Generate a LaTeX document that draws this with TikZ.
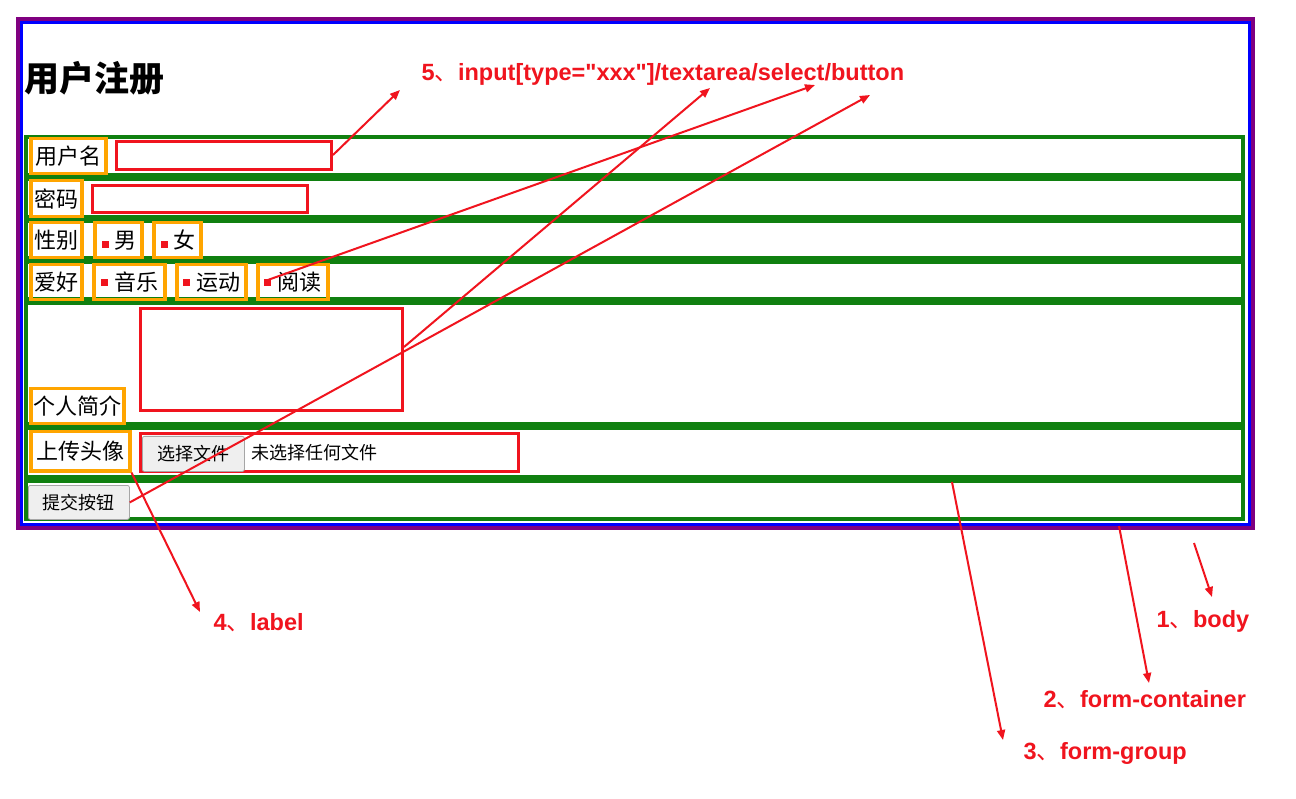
\documentclass[tikz,border=0pt]{standalone}
\usepackage{fontspec}
\setmainfont{Noto Sans CJK SC}
\newfontfamily\annfont{Liberation Sans}
\usetikzlibrary{arrows.meta}
\definecolor{grn}{RGB}{16,128,16}
\definecolor{org}{RGB}{255,165,0}
\definecolor{rd}{RGB}{240,20,30}
\definecolor{pur}{RGB}{128,0,128}
\definecolor{btn}{RGB}{239,239,239}
\tikzset{
 grp/.style={draw=grn,line width=4pt},
 lbl/.style={draw=org,line width=3.5pt,inner sep=0pt,font=\fontsize{22}{22}\selectfont,anchor=north west},
 inp/.style={draw=rd,line width=3.5pt},
 bt/.style={draw=gray!70,fill=btn,rounded corners=2pt,line width=0.8pt,font=\fontsize{18}{18}\selectfont},
 ann/.style={rd,font=\annfont\bfseries\fontsize{23.5}{23.5}\selectfont,anchor=west},
 arr/.style={draw=rd,line width=2pt,-{Triangle[length=10pt,width=8pt]}},
 dot/.style={fill=rd,minimum size=7pt,inner sep=0pt}
}
\begin{document}
\begin{tikzpicture}[x=1pt,y=-1pt]
\useasboundingbox (0,0) rectangle (1296,799);
\fill[white] (0,0) rectangle (1296,799);
\draw[pur,line width=4pt] (18,19) rectangle (1253,528);
\draw[blue,line width=3.5pt] (21.5,22.5) rectangle (1249.5,524.5);
\node[anchor=west,font=\bfseries\fontsize{35}{35}\selectfont] (title) at (21,78) {用户注册};
% groups
\foreach \a/\b in {135/177,177/219,219/260,260/301,301/426,426/479,479/521}
  \draw[grp] (26,\a+2) rectangle (1243,\b-2);
% labels
\newcommand\lb[5]{\node[lbl,minimum width=#3,minimum height=#4] (#1) at #2 {#5};}
\lb{l1}{(29,137)}{75pt}{35pt}{用户名}
\lb{l2}{(29,179)}{51pt}{36pt}{密码}
\lb{l3}{(29,221)}{51pt}{35pt}{性别}
\lb{r1}{(93,221)}{47pt}{35pt}{\hspace*{14pt}男}
\lb{r2}{(152,221)}{47pt}{35pt}{\hspace*{14pt}女}
\lb{l4}{(29,263)}{51pt}{35pt}{爱好}
\lb{c1}{(92,263)}{71pt}{35pt}{\hspace*{14pt}音乐}
\lb{c2}{(175,263)}{69pt}{35pt}{\hspace*{14pt}运动}
\lb{c3}{(256,263)}{70pt}{35pt}{\hspace*{14pt}阅读}
\lb{l5}{(29,387)}{93pt}{35pt}{个人简介}
\lb{l6}{(29,430)}{99pt}{39pt}{上传头像}
\foreach \x/\y in {105/245,164/245,104/283,186/283,267/283}
  \node[dot] at (\x,\y) {};
% inputs
\draw[inp] (116.5,141.5) rectangle (331.5,169.5);
\coordinate (i1e) at (333,155);
\draw[inp] (92.5,185.5) rectangle (307.5,212.5);
\draw[inp] (140.5,308.5) rectangle (402.5,410.5);
\coordinate (ta) at (404,347);
\draw[inp] (140.5,433.5) rectangle (518.5,471.5);
\node[bt,minimum width=102pt,minimum height=35pt,anchor=north west] (fb) at (142,436) {选择文件};
\node[anchor=west,font=\fontsize{18}{18}\selectfont] (ft) at (248,453) {未选择任何文件};
\node[bt,minimum width=101pt,minimum height=34pt,anchor=north west] (sb) at (28,485) {提交按钮};
\coordinate (cb) at (265,281);
% annotations
\node[ann] (a5) at (418,74) {5{\rmfamily\mdseries 、}input[type="xxx"]/textarea/select/button};
\node[ann] (a4) at (210,623) {4{\rmfamily\mdseries 、}label};
\node[ann] (a1) at (1153,621) {1{\rmfamily\mdseries 、}body};
\node[ann] (a2) at (1040,700) {2{\rmfamily\mdseries 、}form-container};
\node[ann] (a3) at (1020,753) {3{\rmfamily\mdseries 、}form-group};
\coordinate (e5a) at (400,90);
\coordinate (e5b) at (815,85);
\coordinate (e5c) at (710,88);
\coordinate (e5d) at (870,95);
\coordinate (e4) at (200,612);
\coordinate (e3) at (1003,740);
\coordinate (e2) at (1149,683);
\coordinate (e1) at (1212,597);
\coordinate (s3) at (952,482);
\coordinate (s2) at (1119,526);
\coordinate (s1) at (1194,543);
\draw[arr] (i1e) -- (e5a);
\draw[arr] (cb) -- (e5b);
\draw[arr] (ta) -- (e5c);
\draw[arr] (sb.east) -- (e5d);
\draw[arr] (l6.south east) -- (e4);
\draw[arr] (s3) -- (e3);
\draw[arr] (s2) -- (e2);
\draw[arr] (s1) -- (e1);
\end{tikzpicture}
\end{document}
